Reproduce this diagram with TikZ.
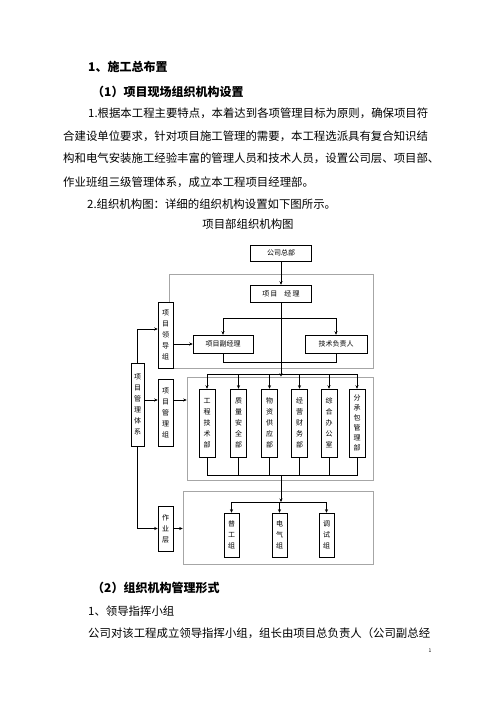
\documentclass[tikz,border=0pt]{standalone}
\usepackage{fontspec}
\setmainfont{Noto Sans CJK SC}
\usepackage{tikz}
\usetikzlibrary{arrows.meta,positioning,calc}
\XeTeXlinebreaklocale "zh"
\XeTeXlinebreakskip=0pt plus 1pt minus 1pt
\newcommand{\fillline}[2]{\makebox[#1][s]{#2}}

\begin{document}
\begin{tikzpicture}[
  x=1pt, y=-1pt,
  box/.style={rectangle, draw=black, fill=white, line width=0.5pt, inner sep=0pt, font=\fontsize{7}{8}\selectfont},
  vbox/.style={box, align=center, font=\fontsize{7}{11}\selectfont},
  grp/.style={rectangle, draw=black!35, line width=0.6pt, inner sep=0pt},
  para/.style={anchor=west, inner sep=0pt, font=\fontsize{11.4}{12}\selectfont},
  head/.style={para, font=\fontsize{12}{13}\selectfont\bfseries},
  >={Stealth[length=3.5pt,width=3pt]}]

  \useasboundingbox (0,0) rectangle (496,702);

  % text above the chart
  \node[head] (h1) at (88,67) {1、施工总布置};
  \node[head] (h2) at (92,92) {（1）项目现场组织机构设置};
  \node[para] (p1) at (88,113) {\fillline{342pt}{1.根据本工程主要特点，本着达到各项管理目标为原则，确保项目符}};
  \node[para] (p2) at (63,136) {\fillline{367pt}{合建设单位要求，针对项目施工管理的需要，本工程选派具有复合知识结}};
  \node[para] (p3) at (63,158) {\fillline{367pt}{构和电气安装施工经验丰富的管理人员和技术人员，设置公司层、项目部、}};
  \node[para] (p4) at (63,182) {作业班组三级管理体系，成立本工程项目经理部。};
  \node[para] (p5) at (87,204) {2.组织机构图：详细的组织机构设置如下图所示。};
  \node[para, anchor=center] (cap) at (248,224) {项目部组织机构图};

  % gray frames
  \node[grp, minimum width=204pt, minimum height=94pt] (g1) at (271,321) {};
  \node[grp, minimum width=186pt, minimum height=103pt] (g2) at (280,428.5) {};
  \node[grp, minimum width=190pt, minimum height=73pt] (g3) at (278,527.5) {};

  % company and project leaders
  \node[box, minimum width=61pt, minimum height=16pt] (zb) at (281,253) {公司总部};
  \node[box, minimum width=61pt, minimum height=17pt] (jl) at (281,293.5) {项\,目\quad 经\,理};
  \node[box, minimum width=60pt, minimum height=18pt] (fjl) at (223,344) {项目副经理};
  \node[box, minimum width=62pt, minimum height=18pt] (jsfz) at (336,344) {技术负责人};
  \draw[->] (zb) -- (jl);
  \draw[<->] (fjl.north) -- ++(0,-17) -| (jsfz.north);
  \draw (fjl.south) -- ++(0,9) -| (jsfz.south);
  \draw[->] (jl.south) -- (jl.south |- g2.north);

  % left column
  \node[vbox, minimum width=15pt, minimum height=66pt] (ldz) at (165.5,335) {项\\目\\领\\导\\组};
  \node[vbox, minimum width=15pt, minimum height=67pt] (glz) at (165.5,412.5) {项\\目\\管\\理\\组};
  \node[vbox, minimum width=15pt, minimum height=45pt] (zyc) at (165.5,528.5) {作\\业\\层};
  \node[vbox, minimum width=13pt, minimum height=83pt] (tx) at (137.5,404.5) {项\\目\\管\\理\\体\\系};
  \coordinate (yL) at (0,329);
  \coordinate (yM) at (0,400);
  \draw[->] (tx.north) |- (ldz.west |- yL);
  \draw[->] (ldz.east |- fjl.west) -- (fjl.west);
  \draw[->] (tx.east |- yM) -- (glz.west |- yM);
  \draw[->] (glz.east |- yM) -- (g2.west |- yM);
  \draw[->] (tx.south) |- (zyc.west);
  \draw[->] (zyc.east) -- (g3.west |- zyc.east);

  % departments
  \node[vbox, minimum width=16pt, minimum height=68pt] (d1) at (207,423) {工\\程\\技\\术\\部};
  \node[vbox, minimum width=16pt, minimum height=68pt] (d2) at (238.5,423) {质\\量\\安\\全\\部};
  \node[vbox, minimum width=16pt, minimum height=68pt] (d3) at (269.5,423) {物\\资\\供\\应\\部};
  \node[vbox, minimum width=16pt, minimum height=68pt] (d4) at (299.5,423) {经\\营\\财\\务\\部};
  \node[vbox, minimum width=16pt, minimum height=68pt] (d5) at (329,423) {综\\合\\办\\公\\室};
  \node[vbox, minimum width=16pt, minimum height=68pt, font=\fontsize{7}{10}\selectfont] (d6) at (357,423) {分\\承\\包\\管\\理\\部};
  \coordinate (busT) at (0,374);
  \coordinate (busB) at (0,475);
  \draw (d1.north |- busT) -- (d6.north |- busT);
  \draw[->] (d1.north |- busT) -- (d1.north);
  \draw[->] (d2.north |- busT) -- (d2.north);
  \draw[->] (d3.north |- busT) -- (d3.north);
  \draw[->] (d4.north |- busT) -- (d4.north);
  \draw[->] (d5.north |- busT) -- (d5.north);
  \draw[->] (d6.north |- busT) -- (d6.north);
  \draw (d1.south) -- (d1.south |- busB) -- (d6.south |- busB) -- (d6.south);
  \draw (d2.south) -- (d2.south |- busB);
  \draw (d3.south) -- (d3.south |- busB);
  \draw (d4.south) -- (d4.south |- busB);
  \draw (d5.south) -- (d5.south |- busB);

  % work teams
  \node[vbox, minimum width=15pt, minimum height=44pt] (w1) at (231.5,535) {普\\工\\组};
  \node[vbox, minimum width=15pt, minimum height=44pt] (w2) at (279.5,535) {电\\气\\组};
  \node[vbox, minimum width=15pt, minimum height=44pt] (w3) at (326.5,535) {调\\试\\组};
  \coordinate (busW) at (0,502);
  \draw[->] (jl.south |- busB) -- (jl.south |- busW);
  \draw (w1.north |- busW) -- (w3.north |- busW);
  \draw[->] (w1.north |- busW) -- (w1.north);
  \draw[->] (w2.north |- busW) -- (w2.north);
  \draw[->] (w3.north |- busW) -- (w3.north);

  % text below the chart
  \node[head] (h3) at (92,588) {（2）组织机构管理形式};
  \node[para] (p6) at (88,611) {1、领导指挥小组};
  \node[para] (p7) at (88,633) {\fillline{342pt}{公司对该工程成立领导指挥小组，组长由项目总负责人（公司副总经}};
  \node[inner sep=0pt, font=\fontsize{5}{6}\selectfont] (pg) at (430,651) {1};
\end{tikzpicture}
\end{document}
